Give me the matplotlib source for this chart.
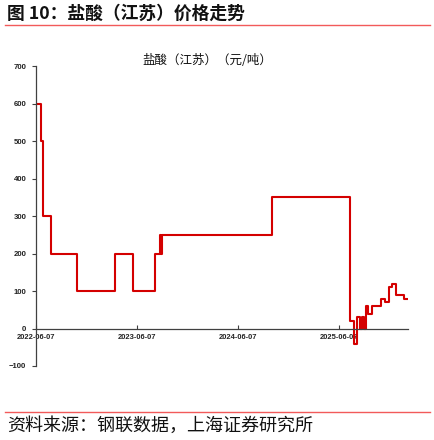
import matplotlib
matplotlib.use("Agg")
import matplotlib.pyplot as plt
import matplotlib.dates as mdates
from matplotlib.lines import Line2D
import pandas as pd

plt.rcParams['font.family'] = ['Noto Sans CJK SC', 'DejaVu Sans']

# Step change dates and price levels (元/吨)
dates = ["2022-06-07", "2022-06-25", "2022-07-03", "2022-07-30", "2022-11-02",
         "2023-03-21", "2023-05-24", "2023-08-11", "2023-08-28", "2023-09-01",
         "2023-09-05", "2023-09-09", "2024-10-08", "2025-07-16", "2025-07-29",
         "2025-08-11", "2025-08-22", "2025-08-28", "2025-09-04", "2025-09-11",
         "2025-09-19", "2025-10-05", "2025-10-07", "2025-11-05", "2025-11-21",
         "2025-12-06", "2025-12-15", "2025-12-30", "2026-01-29", "2026-02-09"]
values = [600, 500, 300, 200, 100,
          200, 100, 200, 250, 200,
          250, 250, 350, 20, -40,
          30, 0, 30, 0, 60,
          40, 60, 60, 80, 70,
          110, 120, 90, 80, 80]
tick_dates = ["2022-06-07", "2023-06-07", "2024-06-07", "2025-06-07"]
y_ticks = [-100, 0, 100, 200, 300, 400, 500, 600, 700]

header = "图 10：盐酸（江苏）价格走势"
chart_title = "盐酸（江苏）（元/吨）"
source = "资料来源：钢联数据，上海证券研究所"

W, H = 435, 440
fig = plt.figure(figsize=(W / 100, H / 100), dpi=100)

ax = fig.add_axes([36 / W, 1 - 366 / H, (408 - 36) / W, (366 - 66) / H])
x = pd.to_datetime(dates)
ax.plot(x, values, drawstyle="steps-post", color="#d40000", lw=1.5)

ax.set_ylim(-100, 700)
ax.set_yticks(y_ticks)
ax.set_xlim(pd.Timestamp(dates[0]), pd.Timestamp(dates[-1]) + pd.Timedelta(days=2))
ax.set_xticks(pd.to_datetime(tick_dates))
ax.xaxis.set_major_formatter(mdates.DateFormatter("%Y-%m-%d"))

for s in ["top", "right"]:
    ax.spines[s].set_visible(False)
ax.spines["bottom"].set_position(("data", 0))
ax.spines["left"].set_color("#404040")
ax.spines["bottom"].set_color("#404040")
ax.spines["left"].set_linewidth(0.9)
ax.spines["bottom"].set_linewidth(0.9)
ax.tick_params(axis="y", labelsize=5.6, length=3, width=0.8, color="#404040", pad=4)
ax.tick_params(axis="x", labelsize=5.4, length=3, width=0.8, color="#404040",
               direction="in", pad=4)
for lab in ax.get_xticklabels() + ax.get_yticklabels():
    lab.set_fontweight("bold")
    lab.set_family(["Liberation Sans", "DejaVu Sans"])
    lab.set_color("#222222")
ax.patch.set_alpha(0)

fig.text(207 / W, 1 - 60 / H, chart_title, ha="center", va="center",
         fontsize=9, fontweight="medium", color="#111111")
fig.text(7 / W, 1 - 14 / H, header, ha="left", va="center",
         fontsize=12.8, fontweight="bold", color="#111111")
fig.add_artist(Line2D([5 / W, 430 / W], [1 - 25 / H, 1 - 25 / H],
                      color="#f25a5a", lw=1.0))
fig.add_artist(Line2D([5 / W, 430 / W], [1 - 412 / H, 1 - 412 / H],
                      color="#f25a5a", lw=1.0))
fig.text(7 / W, 1 - 426 / H, source, ha="left", va="center",
         fontsize=13, style="italic", color="#111111")

fig.savefig("out.png", dpi=100)
